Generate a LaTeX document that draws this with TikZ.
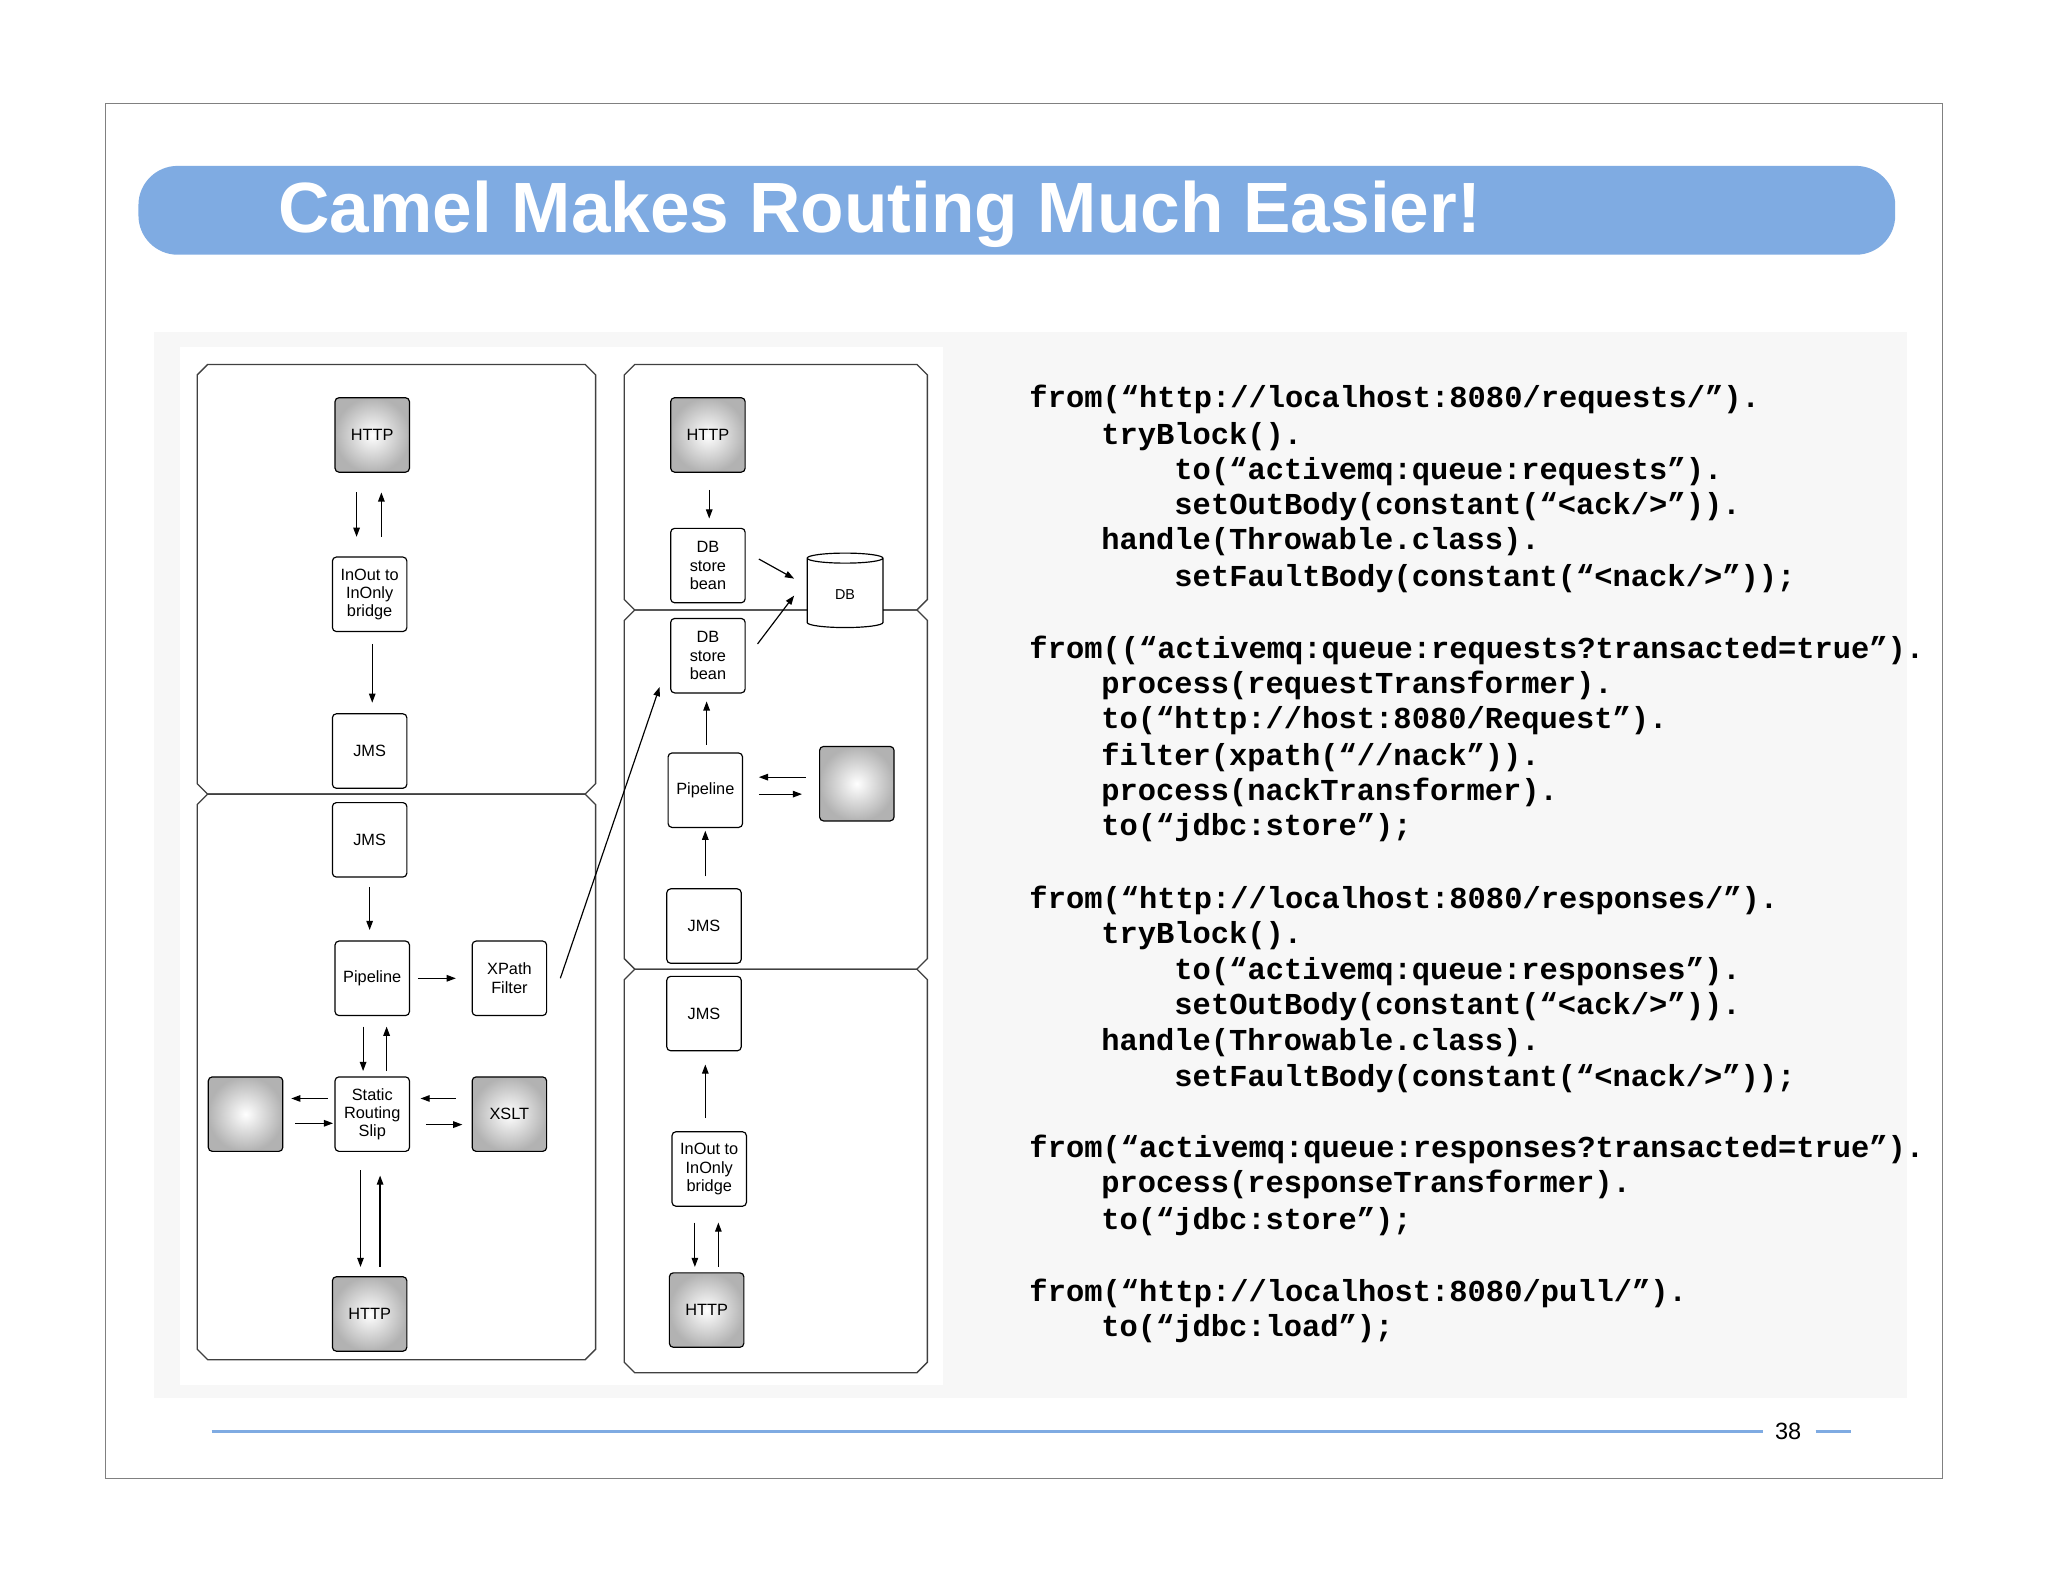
\documentclass[tikz,border=0pt]{standalone}
\usepackage{fontspec}
\setmainfont{Liberation Sans}
\newfontfamily\codefont{Liberation Mono}
\usetikzlibrary{shapes.geometric,arrows.meta}
\definecolor{bar}{HTML}{7FABE2}
\newcommand\cont[4]{\draw[line width=1pt,black!75] (#1+8,#2) -- (#3-8,#2) -- (#3,#2+8) -- (#3,#4-8) -- (#3-8,#4) -- (#1+8,#4) -- (#1,#4-8) -- (#1,#2+8) -- cycle;}
\begin{document}
\begin{tikzpicture}[x=1pt,y=-1pt,
  box/.style={draw,line width=0.9pt,rounded corners=3pt,minimum width=57pt,minimum height=57pt,align=center,font=\fontsize{12.5}{14}\selectfont,fill=white,inner sep=1pt},
  gbox/.style={box,inner color=white,outer color=black!30},
  ar/.style={-{Triangle[length=7pt,width=5pt]},line width=0.9pt},
  code/.style={anchor=west,font=\codefont\bfseries\fontsize{23.3}{25}\selectfont,inner sep=0pt}]
\useasboundingbox (0,0) rectangle (1568,1211);
\fill[white] (0,0) rectangle (1568,1211);
\draw[black!50,line width=0.8pt] (81,79) rectangle (1487,1132);
\fill[bar,rounded corners=30pt] (106,127) rectangle (1451,195);
\node[anchor=west,text=white,font=\bfseries\fontsize{54.5}{60}\selectfont,inner sep=0] at (213,164) {Camel Makes Routing Much Easier!};
\fill[black!3] (118,254) rectangle (1460,1070);
\fill[white] (138,266) rectangle (722,1060);
\cont{151}{279}{456}{608}
\cont{151}{608}{456}{1041}
\cont{478}{279}{710}{467}
\cont{478}{467}{710}{742}
\cont{478}{742}{710}{1051}
% left
\node[gbox] (h1) at (285,333) {HTTP};
\node[box] (b1) at (283,455) {InOut to\\InOnly\\bridge};
\node[box] (j1) at (283,575) {JMS};
\node[box] (j2) at (283,643) {JMS};
\node[box] (p1) at (285,749) {Pipeline};
\node[box] (x1) at (390,749) {XPath\\Filter};
\node[box] (s1) at (285,853) {Static\\Routing\\Slip};
\node[gbox] (e1) at (188,853) {};
\node[gbox] (t1) at (390,853) {XSLT};
\node[gbox] (h2) at (283,1006) {HTTP};
% right
\node[gbox] (h3) at (542,333) {HTTP};
\node[box] (d1) at (542,433) {DB\\store\\bean};
\node[box] (d2) at (542,502) {DB\\store\\bean};
\node[box] (p2) at (540,605) {Pipeline};
\node[gbox] (e2) at (656,600) {};
\node[box] (j3) at (539,709) {JMS};
\node[box] (j4) at (539,776) {JMS};
\node[box] (b2) at (543,895) {InOut to\\InOnly\\bridge};
\node[gbox] (h4) at (541,1003) {HTTP};
\node[draw,line width=0.9pt,fill=white,cylinder,shape border rotate=90,aspect=0.35,minimum width=58pt,minimum height=57pt,font=\fontsize{11}{12}\selectfont] (db) at (647,455) {DB};
% arrows
\coordinate (a1) at (273,377); \coordinate (a2) at (273,411); \draw[ar] (a1) -- (a2);
\coordinate (a3) at (292,411); \coordinate (a4) at (292,377); \draw[ar] (a3) -- (a4);
\coordinate (a5) at (285,493); \coordinate (a6) at (285,538); \draw[ar] (a5) -- (a6);
\coordinate (a7) at (283,679); \coordinate (a8) at (283,712); \draw[ar] (a7) -- (a8);
\coordinate (c1) at (320,749); \coordinate (c2) at (349,749); \draw[ar] (c1) -- (c2);
\coordinate (c3) at (278,786); \coordinate (c4) at (278,820); \draw[ar] (c3) -- (c4);
\coordinate (c5) at (296,820); \coordinate (c6) at (296,786); \draw[ar] (c5) -- (c6);
\coordinate (c7) at (251,841); \coordinate (c8) at (223,841); \draw[ar] (c7) -- (c8);
\coordinate (c9) at (226,860); \coordinate (c10) at (255,860); \draw[ar] (c9) -- (c10);
\coordinate (e3) at (349,841); \coordinate (e4) at (322,841); \draw[ar] (e3) -- (e4);
\coordinate (e5) at (326,861); \coordinate (e6) at (354,861); \draw[ar] (e5) -- (e6);
\coordinate (e7) at (276,896); \coordinate (e8) at (276,970); \draw[ar] (e7) -- (e8);
\coordinate (e9) at (291,970); \coordinate (e10) at (291,900); \draw[ar] (e9) -- (e10);
\coordinate (f1) at (429,749); \coordinate (f2) at (505,526); \draw[ar] (f1) -- (f2);
\coordinate (f3) at (543,375); \coordinate (f4) at (543,397); \draw[ar] (f3) -- (f4);
\coordinate (f5) at (581,428); \coordinate (f6) at (608,443); \draw[ar] (f5) -- (f6);
\coordinate (f7) at (580,493); \coordinate (f8) at (608,456); \draw[ar] (f7) -- (f8);
\coordinate (g1) at (541,570); \coordinate (g2) at (541,537); \draw[ar] (g1) -- (g2);
\coordinate (g3) at (617,595); \coordinate (g4) at (581,595); \draw[ar] (g3) -- (g4);
\coordinate (g5) at (581,608); \coordinate (g6) at (614,608); \draw[ar] (g5) -- (g6);
\coordinate (g7) at (540,671); \coordinate (g8) at (540,636); \draw[ar] (g7) -- (g8);
\coordinate (g9) at (540,856); \coordinate (g10) at (540,815); \draw[ar] (g9) -- (g10);
\coordinate (k1) at (532,936); \coordinate (k2) at (532,970); \draw[ar] (k1) -- (k2);
\coordinate (k3) at (550,970); \coordinate (k4) at (550,936); \draw[ar] (k3) -- (k4);
% code
\node[code] at (788,306) {from(“http://localhost:8080/requests/”).};
\node[code] at (843,334) {tryBlock().};
\node[code] at (899,361) {to(“activemq:queue:requests”).};
\node[code] at (899,388) {setOutBody(constant(“<ack/>”)).};
\node[code] at (843,415) {handle(Throwable.class).};
\node[code] at (899,443) {setFaultBody(constant(“<nack/>”));};
\node[code] at (788,498) {from((“activemq:queue:requests?transacted=true”).};
\node[code] at (843,525) {process(requestTransformer).};
\node[code] at (843,552) {to(“http://host:8080/Request”).};
\node[code] at (843,580) {filter(xpath(“//nack”)).};
\node[code] at (843,607) {process(nackTransformer).};
\node[code] at (843,634) {to(“jdbc:store”);};
\node[code] at (788,689) {from(“http://localhost:8080/responses/”).};
\node[code] at (843,716) {tryBlock().};
\node[code] at (899,744) {to(“activemq:queue:responses”).};
\node[code] at (899,771) {setOutBody(constant(“<ack/>”)).};
\node[code] at (843,798) {handle(Throwable.class).};
\node[code] at (899,826) {setFaultBody(constant(“<nack/>”));};
\node[code] at (788,880) {from(“activemq:queue:responses?transacted=true”).};
\node[code] at (843,907) {process(responseTransformer).};
\node[code] at (843,935) {to(“jdbc:store”);};
\node[code] at (788,990) {from(“http://localhost:8080/pull/”).};
\node[code] at (843,1017) {to(“jdbc:load”);};
% footer
\draw[bar,line width=3pt] (162,1096) -- (1350,1096);
\draw[bar,line width=3pt] (1390,1096) -- (1417,1096);
\node[font=\fontsize{18}{20}\selectfont] at (1369,1096) {38};
\end{tikzpicture}
\end{document}
